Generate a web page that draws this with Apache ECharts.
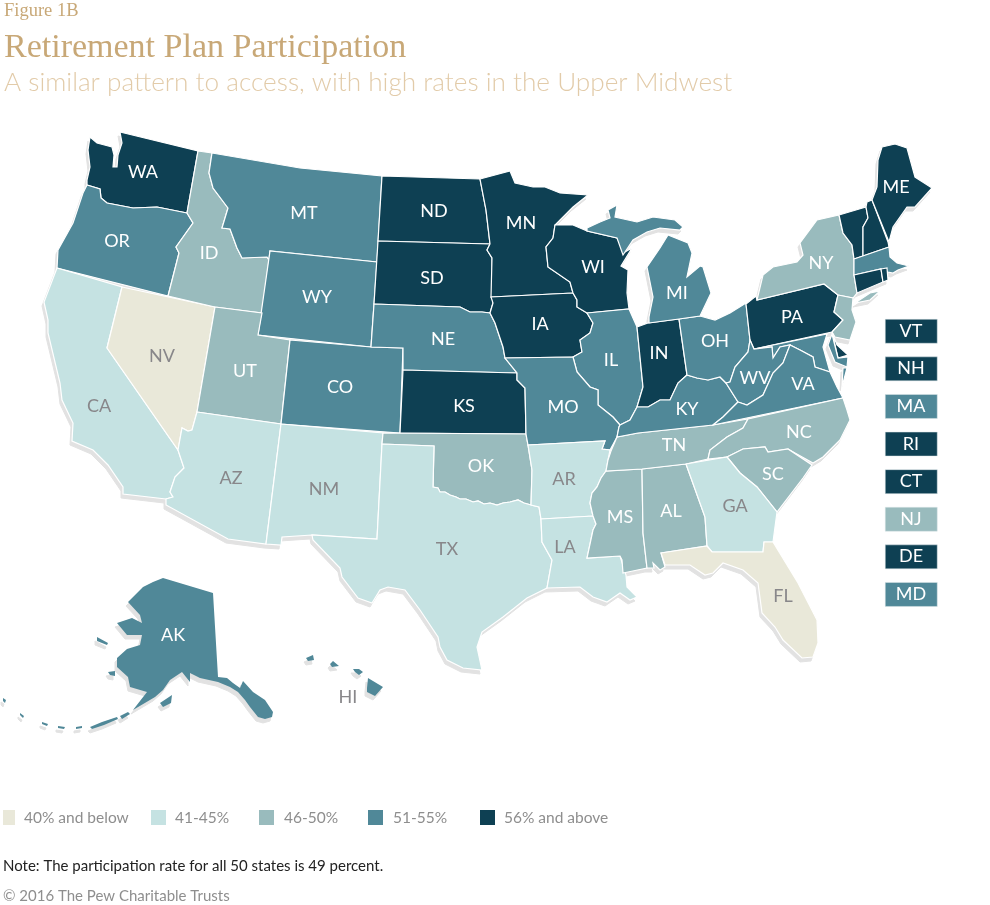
<!DOCTYPE html>
<html>
<head>
<meta charset="utf-8">
<style>
html, body { margin: 0; padding: 0; background: #fff; }
#main { width: 990px; height: 905px; }
</style>
<script src="https://cdn.jsdelivr.net/npm/echarts@6/dist/echarts.min.js"></script>
</head>
<body>
<div id="main"></div>
<script>
// rate bins, lowest first
const binLabels = ['40% and below', '41-45%', '46-50%', '51-55%', '56% and above'];
const binColors = ['#e9e8d9', '#c5e2e2', '#99bbbd', '#508898', '#0e4053'];

const below40 = ['NV', 'FL'];
const rate41to45 = ['CA', 'AZ', 'NM', 'TX', 'AR', 'LA', 'GA'];
const rate46to50 = ['ID', 'UT', 'OK', 'TN', 'MS', 'AL', 'SC', 'NC', 'NY', 'NJ'];
const rate51to55 = ['OR', 'MT', 'WY', 'CO', 'NE', 'MO', 'IL', 'MI', 'OH', 'KY', 'WV', 'VA', 'MA', 'MD', 'AK', 'HI'];
const rate56up = ['WA', 'ND', 'SD', 'KS', 'MN', 'IA', 'WI', 'IN', 'PA', 'ME', 'VT', 'NH', 'RI', 'CT', 'DE'];
const bins = [below40, rate41to45, rate46to50, rate51to55, rate56up];

// small states listed in the boxes on the right
const boxedStates = ['VT', 'NH', 'MA', 'RI', 'CT', 'NJ', 'DE', 'MD'];

// state outlines, traced in page pixels: "x,y x,y ..."; one string per polygon
const outlines = {
    WA: ['90,137 97,143 112,147 114,155 113,167 117,167 118,155 122,143 120,132 198,151 187,213 157,207 133,208 107,203 101,198 100,189 87,185 87,180 90,167 88,150'],
    OR: ['87,185 100,189 101,198 107,203 133,208 157,207 187,213 193,223 176,247 179,253 168,296 57,268 58,250 73,223 83,193'],
    CA: ['57,268 122,287 107,348 178,450 184,468 175,477 170,492 173,497 166,499 123,494 123,487 108,465 93,450 72,441 73,423 62,400 60,383 48,333 48,320 44,302'],
    NV: ['122,287 215,307 197,412 192,430 188,431 182,428 178,450 107,348'],
    ID: ['198,151 212,153 209,173 213,188 228,208 222,228 230,229 237,248 242,258 267,257 269,260 262,313 215,307 168,296 179,253 176,247 193,223 187,213'],
    MT: ['212,153 300,168 382,176 377,262 270,251 269,260 267,257 242,258 237,248 230,229 222,228 228,208 213,188 209,173'],
    WY: ['270,251 377,262 371,347 258,335'],
    UT: ['215,307 262,313 258,335 290,340 281,424 197,412'],
    CO: ['290,340 371,347 403,348 400,433 281,424'],
    AZ: ['197,412 281,424 266,544 228,539 166,505 166,499 173,497 170,492 175,477 184,468 178,450 182,428 188,431 192,430'],
    NM: ['281,424 383,433 382,444 377,539 312,535 282,537 281,545 266,544'],
    ND: ['382,176 480,179 486,210 490,244 378,241'],
    SD: ['378,241 490,244 487,250 492,258 492,297 493,303 490,313 482,312 470,312 460,307 374,304'],
    NE: ['374,304 460,307 470,312 482,312 490,313 495,323 503,347 505,358 517,373 403,370 403,348 371,347'],
    KS: ['403,370 517,373 517,380 525,388 526,434 400,433'],
    OK: ['383,433 526,434 528,445 532,470 531,505 524,503 518,500 510,502 503,503 497,505 490,503 484,504 478,501 473,502 466,499 460,499 456,497 450,495 445,492 440,492 438,488 433,487 434,446 382,444'],
    TX: ['382,444 434,446 433,487 438,488 440,492 445,492 450,495 456,497 460,499 466,499 473,502 478,501 484,504 490,503 497,505 503,503 510,502 518,500 524,503 531,505 539,507 541,519 542,542 552,560 547,588 527,598 503,617 482,632 477,647 482,670 463,668 447,660 440,647 438,637 420,610 405,590 388,587 380,590 372,603 358,598 342,577 340,568 313,540 312,535 377,539'],
    MN: ['480,179 510,171 515,183 533,187 545,187 560,193 588,195 573,207 555,225 553,238 546,247 548,267 570,282 573,293 491,297 492,258 487,250 490,244 486,210'],
    IA: ['491,297 573,293 577,300 577,307 587,313 593,323 590,333 580,340 582,352 573,357 505,358 503,347 495,323 490,313 493,303'],
    WI: ['555,225 573,225 587,231 617,238 625,252 632,248 621,266 628,270 627,293 629,309 587,313 577,307 577,300 573,293 570,282 548,267 546,247 553,238'],
    IL: ['587,313 629,309 637,327 642,377 643,387 637,407 630,420 620,425 613,417 598,405 598,390 590,387 577,372 573,357 582,352 580,340 590,333 593,323'],
    IN: ['637,327 648,323 679,319 687,375 678,383 670,400 660,400 648,407 637,407 643,387 642,377'],
    MO: ['505,358 573,357 577,372 590,387 598,390 598,405 613,417 620,425 619,427 617,437 610,450 602,449 605,441 528,445 526,434 525,388 517,380 517,373'],
    AR: ['528,445 605,441 602,449 610,450 611,451 608,460 606,471 601,478 597,487 592,493 590,503 593,516 541,519 539,507 531,505 532,470'],
    LA: ['541,519 593,516 596,524 593,530 587,558 620,556 626,575 627,587 637,597 630,600 620,593 607,602 593,597 580,587 547,588 552,560 542,542'],
    MS: ['606,471 642,469 643,533 647,568 628,572 623,573 622,560 620,556 587,558 593,530 596,524 593,516 590,503 592,493 597,487 601,478'],
    AL: ['642,469 686,464 705,517 707,546 661,553 665,567 660,570 653,563 654,568 647,568 643,533'],
    TN: ['606,471 608,460 611,451 617,437 638,433 713,425 748,419 743,428 727,437 710,450 708,459 686,464 642,469'],
    KY: ['620,425 630,420 637,407 648,407 660,400 670,400 678,383 687,375 697,378 708,380 720,377 726,383 738,402 723,417 713,425 638,433 617,437 619,427'],
    OH: ['679,319 700,316 715,320 730,313 746,303 750,340 748,352 735,367 730,382 726,383 720,377 708,380 697,378 687,375'],
    MI: ['649,323 679,319 700,316 711,293 703,267 700,266 687,277 692,253 688,243 668,235 660,248 647,267 653,297 649,317',
        '587,228 600,222 610,218 608,210 617,205 615,217 637,222 653,217 675,220 683,227 680,230 660,228 647,232 633,240 623,255 617,238 587,231'],
    PA: ['746,304 756,296 757,300 824,284 838,295 834,312 843,320 832,332 754,349 750,340'],
    NY: ['757,300 763,275 773,267 797,262 803,255 800,243 817,220 839,215 843,233 852,245 854,259 854,275 857,293 853,298 838,295 824,284',
        '855,303 870,293 880,291 870,300'],
    NJ: ['838,295 853,298 852,310 856,322 850,340 835,337 832,332 843,320 834,312'],
    VT: ['839,215 866,207 868,218 863,227 863,256 854,259 852,245 843,233'],
    NH: ['867,202 872,200 888,242 889,247 863,256 863,227 868,218 866,207'],
    ME: ['882,147 895,144 907,148 915,177 932,188 915,207 907,207 893,227 889,242 872,200 877,187 878,160'],
    MA: ['854,259 889,247 890,257 897,263 909,266 898,270 893,273 888,272 881,269 854,275'],
    CT: ['854,275 881,269 883,282 857,293'],
    RI: ['881,269 887,268 888,280 883,282'],
    DE: ['832,332 837,345 848,355 838,358'],
    MD: ['754,349 827,334 823,347 830,372 815,367 813,357 800,350 790,345 780,347 773,358 772,347',
        '832,334 838,358 848,357 847,367 835,362 828,345'],
    WV: ['750,340 754,349 772,347 773,358 780,347 790,345 783,363 773,373 763,395 747,405 738,402 726,383 730,382 735,367 748,352'],
    VA: ['738,402 747,405 763,395 773,373 783,363 790,345 800,350 813,357 815,367 830,372 837,387 843,398 713,425 723,417',
        '843,368 847,368 842,387'],
    NC: ['843,398 847,410 850,420 840,440 823,457 813,463 788,449 768,452 765,447 743,449 727,457 708,459 710,450 727,437 743,428 748,419'],
    SC: ['727,457 743,449 765,447 768,452 788,449 812,465 803,478 777,512 757,487 740,473'],
    GA: ['686,464 727,457 740,473 757,487 777,512 773,542 764,542 763,552 712,552 707,546 705,517'],
    FL: ['661,553 707,546 712,552 763,552 764,542 773,542 798,583 817,620 818,643 813,657 802,658 783,640 775,627 762,613 758,583 743,570 723,563 713,573 705,575 690,565 665,565'],
    AK: ['163,578 213,593 218,677 227,678 233,683 240,688 243,681 253,692 265,700 273,712 272,717 265,719 258,717 250,707 245,700 238,692 230,687 218,682 200,678 190,673 190,682 182,672 170,680 163,690 155,697 133,710 147,692 130,687 128,677 117,667 117,658 127,649 140,645 142,635 127,635 117,623 132,618 142,623 140,615 128,602 143,587 153,582',
        '160,703 172,695 171,703 163,707',
        '108,672 115,671 115,676 110,675',
        '97,637 108,643 107,645 97,641',
        '120,716 128,712 130,714 122,719',
        '90,727 102,722 117,717 118,719 104,725 92,729',
        '76,727 82,726 82,728 76,729',
        '58,726 65,727 64,729 58,728',
        '42,722 48,724 47,726 42,724',
        '20,713 24,716 23,718 20,715',
        '3,698 6,700 5,703 3,701'],
    HI: ['367,688 368,678 383,687 375,696 367,692',
        '353,669 359,669 363,672 359,675 355,672',
        '330,664 333,661 339,666 332,667',
        '306,658 313,655 314,660 308,661']
};

// where each state's label sits, page pixels
const labelSpots = {
    WA: [143, 172], OR: [117, 241], ID: [209, 253], MT: [304, 213], WY: [317, 297], NV: [162, 356],
    UT: [245, 371], CO: [340, 387], CA: [99, 406], AZ: [231, 478], NM: [324, 489], ND: [434, 211],
    SD: [432, 278], NE: [443, 339], KS: [464, 406], MN: [521, 223], IA: [540, 324], WI: [593, 267],
    IL: [611, 360], MO: [563, 407], IN: [659, 353], MI: [677, 293], OH: [715, 341], KY: [687, 409],
    WV: [755, 378], VA: [803, 384], NC: [799, 432], TN: [674, 445], SC: [773, 474], GA: [735, 506],
    AL: [671, 511], MS: [620, 517], FL: [783, 596], LA: [565, 547], AR: [564, 479], OK: [481, 466],
    TX: [447, 549], NY: [821, 263], PA: [792, 317], ME: [896, 187], AK: [173, 635], HI: [348, 697]
};

const greyText = '#88878a';
const fontName = 'Lato';

function binOf(state) {
    return bins.findIndex(b => b.includes(state));
}

function toRing(str) {
    let pts = str.split(' ').map(p => {
        let xy = p.split(',');
        return [+xy[0], -xy[1]];
    });
    pts.push(pts[0]);
    return pts;
}

let features = Object.keys(outlines).map(name => {
    let spot = labelSpots[name];
    return {
        type: 'Feature',
        properties: { name: name, cp: spot ? [spot[0], -spot[1]] : undefined },
        geometry: { type: 'MultiPolygon', coordinates: outlines[name].map(s => [toRing(s)]) }
    };
});
echarts.registerMap('us', { type: 'FeatureCollection', features: features });

let stateData = Object.keys(outlines).map(name => {
    let b = binOf(name);
    let boxed = boxedStates.includes(name);
    let offMainland = name === 'AK' || name === 'HI';
    return {
        name: name,
        value: b,
        // the islands are too small to keep a white edge
        itemStyle: { areaColor: binColors[b], borderWidth: offMainland ? 0 : 1.2 },
        label: { show: !boxed, color: (b < 2 || name === 'HI') ? greyText : '#fff' }
    };
});

// boxes for the small states
let boxes = [];
boxedStates.forEach((name, i) => {
    let y = 319 + i * 37.6;
    boxes.push({
        type: 'rect', left: 885, top: y, silent: true,
        shape: { width: 52, height: 24 },
        style: { fill: binColors[binOf(name)], stroke: '#dfe6e8', lineWidth: 0.5 }
    });
    boxes.push({
        type: 'text', silent: true, x: 911, y: y + 12,
        style: { text: name, fill: '#fff', font: '18px ' + fontName, textAlign: 'center', textVerticalAlign: 'middle' }
    });
});

// colour key along the bottom
const keyX = [3, 151, 259, 368, 480];
const keyTextX = [24, 175, 284, 393, 504];
let key = [];
binLabels.forEach((label, i) => {
    key.push({
        type: 'rect', silent: true,
        shape: { x: keyX[i], y: 810, width: i === 0 ? 12 : 15, height: 15 },
        style: { fill: binColors[i] }
    });
    key.push({
        type: 'text', silent: true, x: keyTextX[i], y: 818,
        style: { text: label, fill: '#8e8e8e', font: '15.5px ' + fontName, textVerticalAlign: 'middle' }
    });
});

let myChart = echarts.init(document.getElementById('main'));

let option = {
    animation: false,
    title: [
        { text: 'Figure 1B', left: 4, top: 2, padding: 0, textStyle: { color: '#c8a877', fontFamily: 'Liberation Serif', fontSize: 18.5, fontWeight: 'normal' } },
        { text: 'Retirement Plan Participation', left: 4, top: 31, padding: 0, textStyle: { color: '#c8a877', fontFamily: 'Liberation Serif', fontSize: 34, fontWeight: 'normal' } },
        { text: 'A similar pattern to access, with high rates in the Upper Midwest', left: 4, top: 70, padding: 0, textStyle: { color: '#e2cba9', fontFamily: fontName, fontSize: 26.2, fontWeight: 300 } },
        { text: 'Note: The participation rate for all 50 states is 49 percent.', left: 3, top: 859, padding: 0, textStyle: { color: '#222', fontFamily: fontName, fontSize: 15, fontWeight: 'normal' } },
        { text: '\u00A9 2016 The Pew Charitable Trusts', left: 3, top: 889, padding: 0, textStyle: { color: '#8e8e8e', fontFamily: fontName, fontSize: 15, fontWeight: 'normal' } }
    ],
    // the grey drop shadow is the same map, moved a little
    geo: {
        map: 'us', silent: true, aspectScale: 1,
        boundingCoords: [[0, 0], [990, -905]],
        left: -2, top: 4, width: 990, height: 905,
        itemStyle: { areaColor: '#e2e2e2', borderColor: '#e2e2e2', borderWidth: 1 },
        label: { show: false },
        emphasis: { disabled: true }
    },
    series: [
        {
            type: 'map', map: 'us', silent: true, aspectScale: 1,
            boundingCoords: [[0, 0], [990, -905]],
            left: 0, top: 0, width: 990, height: 905,
            z: 3,
            itemStyle: { borderColor: '#fff', borderWidth: 1.2 },
            label: { show: true, fontFamily: fontName, fontSize: 18 },
            emphasis: { disabled: true },
            data: stateData
        }
    ],
    graphic: boxes.concat(key)
};

myChart.setOption(option);
</script>
</body>
</html>
